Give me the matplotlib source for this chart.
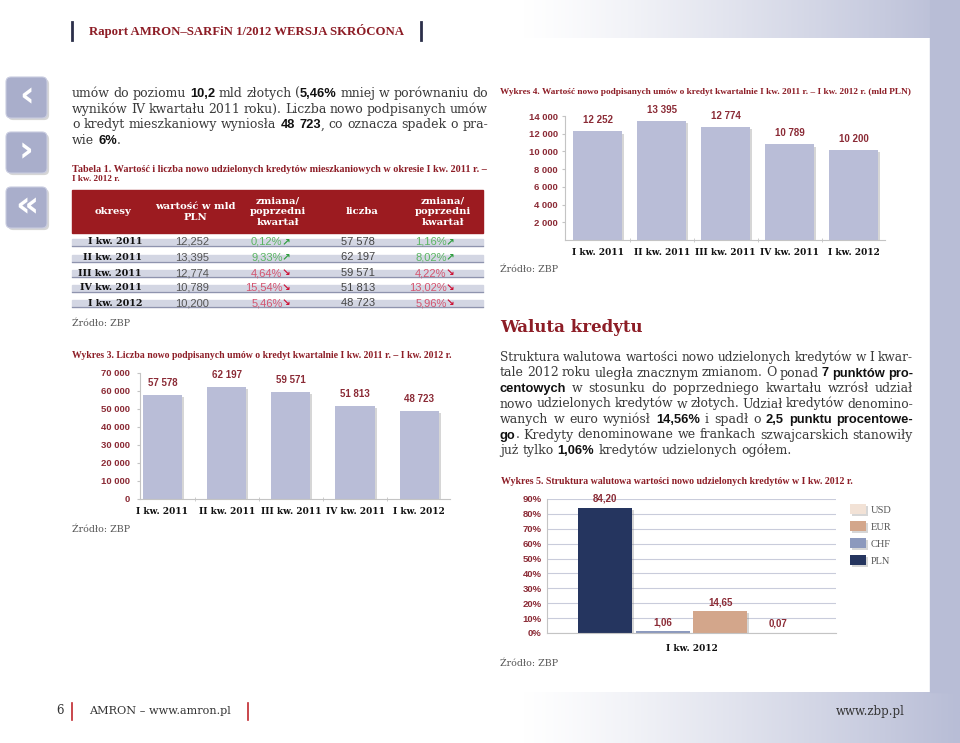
import numpy as np
import matplotlib
matplotlib.use("Agg")
import matplotlib.pyplot as plt
import matplotlib.patheffects as pe
from matplotlib.patches import FancyBboxPatch, Rectangle
from matplotlib.colors import LinearSegmentedColormap
from matplotlib import font_manager

W, H = 960, 743

# --- data -------------------------------------------------------------
periods   = ["I kw. 2011", "II kw. 2011", "III kw. 2011", "IV kw. 2011", "I kw. 2012"]
value_bn  = [12.252, 13.395, 12.774, 10.789, 10.200]      # mld PLN
value_chg = [0.12, 9.33, -4.64, -15.54, -5.46]            # % q/q
count     = [57578, 62197, 59571, 51813, 48723]
count_chg = [1.16, 8.02, -4.22, -13.02, -5.96]

currencies = ["PLN", "CHF", "EUR", "USD"]
shares     = [84.20, 1.06, 14.65, 0.07]

left_par = [
    "umów do poziomu **10,2** mld złotych (**5,46%** mniej w porównaniu do",
    "wyników IV kwartału 2011 roku). Liczba nowo podpisanych umów",
    "o kredyt mieszkaniowy wyniosła **48 723**, co oznacza spadek o pra-",
    "wie **6%**.",
]
right_par = [
    "Struktura walutowa wartości nowo udzielonych kredytów w I kwar-",
    "tale 2012 roku uległa znacznym zmianom. O ponad **7 punktów pro-**",
    "**centowych** w stosunku do poprzedniego kwartału wzrósł udział",
    "nowo udzielonych kredytów w złotych. Udział kredytów denomino-",
    "wanych w euro wyniósł **14,56%** i spadł o **2,5 punktu procentowe-**",
    "**go**. Kredyty denominowane we frankach szwajcarskich stanowiły",
    "już tylko **1,06%** kredytów udzielonych ogółem.",
]

# --- style ------------------------------------------------------------
_names = {f.name for f in font_manager.fontManager.ttflist}
NARROW = "Liberation Sans Narrow" if "Liberation Sans Narrow" in _names else "Liberation Sans"
SERIF = "DejaVu Serif"
CAPT = "Liberation Serif"

RED      = "#8d1d26"
RED_TXT  = "#8b2b36"
HEAD_RED = "#9c1b20"
LAV      = "#b9bdd7"
STRIP    = "#b8bdd6"
AXIS_C   = "#c4c4c4"
GREEN    = "#5bb562"
GREEN_AR = "#2f9e3f"
PINK     = "#d4546f"
RED_AR   = "#cc1236"
CUR_COL  = ["#25355f", "#8c99bd", "#d3a68b", "#f2e2d6"]

BODY   = dict(family=SERIF, color="#3a3a3a")
BODY_B = dict(family="Liberation Sans", weight="bold", color="#111111")
SHADOW = [pe.SimplePatchShadow(offset=(1.5, -1.5), shadow_rgbFace="#8a8a8a", alpha=0.35), pe.Normal()]


def box(x0, y0, x1, y1):
    return [x0 / W, 1 - y1 / H, (x1 - x0) / W, (y1 - y0) / H]


def fmt_thousands(v):
    return f"{int(round(v)):,}".replace(",", " ")


def fmt_pct(v):
    return f"{abs(v):.2f}%".replace(".", ",")


fig = plt.figure(figsize=(W / 100, H / 100), dpi=100)
fig.patch.set_facecolor("white")
bg = fig.add_axes([0, 0, 1, 1])
bg.axis("off")
R = fig.canvas.get_renderer()

# page decoration: gradients and right strip
cmap = LinearSegmentedColormap.from_list("page", ["white", STRIP])
grad = np.linspace(0, 1, 256)[None, :] ** 1.2
bg.imshow(grad, extent=(520, 960, 38, 0), cmap=cmap, aspect="auto", zorder=0)
bg.imshow(grad, extent=(520, 960, 743, 692), cmap=cmap, aspect="auto", zorder=0)
bg.add_patch(Rectangle((930, 0), 30, 692, color=STRIP, zorder=0))
bg.set_xlim(0, W)
bg.set_ylim(H, 0)


def fit_text(x, y, s, width, **kw):
    t = bg.text(x, y, s, fontsize=10, **kw)
    w = t.get_window_extent(R).width
    t.set_fontsize(10 * width / w)
    return t


def rich_line(x, y, line, width, size, justify=True, min_gap=3.2):
    runs = [(p, i % 2 == 1) for i, p in enumerate(line.split("**")) if p]
    words = [[]]
    for text, bold in runs:
        for j, piece in enumerate(text.split(" ")):
            if j > 0:
                words.append([])
            if piece:
                words[-1].append((piece, bold))
    words = [w for w in words if w]
    placed = []
    for w in words:
        parts = []
        for piece, bold in w:
            kw = dict(BODY_B, fontsize=size * 1.03) if bold else dict(BODY, fontsize=size)
            parts.append(bg.text(x, y, piece, va="baseline", ha="left", **kw))
        placed.append(parts)

    def widths():
        return [[t.get_window_extent(R).width for t in parts] for parts in placed]

    ws = widths()
    total = sum(sum(p) for p in ws)
    n = len(placed)
    if justify and n > 1 and (width - total) / (n - 1) < min_gap:
        k = (width - min_gap * (n - 1)) / total
        for parts in placed:
            for t in parts:
                t.set_fontsize(t.get_fontsize() * k)
        ws = widths()
        total = sum(sum(p) for p in ws)
    gap = size * 100 / 72 * 0.32
    if justify and n > 1:
        gap = (width - total) / (n - 1)
    cx = x
    for parts, pw in zip(placed, ws):
        for t, w in zip(parts, pw):
            t.set_x(cx)
            cx += w
        cx += gap


# header + footer
bg.plot([72, 72], [22, 40], color="#2b2f4a", lw=2)
bg.plot([421, 421], [22, 40], color="#2b2f4a", lw=2)
fit_text(89, 31, "Raport AMRON–SARFiN 1/2012 WERSJA SKRÓCONA", 314,
         family=CAPT, weight="bold", color=RED, va="center")
bg.text(60, 711, "6", fontsize=8.5, family=SERIF, color="#333", va="center", ha="center")
bg.plot([72, 72], [703, 720], color="#c0272d", lw=1.2)
fit_text(89, 711, "AMRON – www.amron.pl", 142, family=SERIF, color="#333", va="center")
bg.plot([248, 248], [703, 720], color="#c0272d", lw=1.2)
bg.text(905, 711, "www.zbp.pl", fontsize=8.5, family=SERIF, color="#333", va="center", ha="right")

# side icons
for y0, glyph in zip([77, 132, 187], ["‹", "›", "«"]):
    p = FancyBboxPatch((6, y0), 41, 41, boxstyle="round,pad=0,rounding_size=5",
                       fc="#a9aecb", ec="#c9cce0", lw=0.8, zorder=2)
    p.set_path_effects(SHADOW)
    bg.add_patch(p)
    bg.text(26.5, y0 + 19, glyph, color="white", fontsize=26, weight="bold",
            family="DejaVu Sans", ha="center", va="center", zorder=3)

# paragraphs
for i, line in enumerate(left_par):
    rich_line(72, 97 + i * 15.7, line, 416, 9.0, justify=i < len(left_par) - 1)
bg.text(500, 327, "Waluta kredytu", fontsize=12, family=SERIF, weight="bold",
        color=RED, va="center")
for i, line in enumerate(right_par):
    rich_line(500, 361 + i * 15.5, line, 413, 9.0, justify=i < len(right_par) - 1)

# --- table 1 -----------------------------------------------------------
fit_text(72, 169, "Tabela 1. Wartość i liczba nowo udzielonych kredytów mieszkaniowych "
         "w okresie I kw. 2011 r. –", 413, family=CAPT, weight="bold", color=RED, va="center")
bg.text(72, 179, "I kw. 2012 r.", fontsize=6.6, family=CAPT, weight="bold", color=RED, va="center")

bg.add_patch(Rectangle((72, 190), 411, 43, color=HEAD_RED, zorder=1))
head_kw = dict(family=SERIF, weight="bold", color="white", fontsize=7.2,
               ha="center", va="center", linespacing=1.25, zorder=2)
bg.text(113, 212, "okresy", **head_kw)
bg.text(195, 212, "wartość w mld\nPLN", **head_kw)
bg.text(278, 212, "zmiana/\npoprzedni\nkwartał", **head_kw)
bg.text(362, 212, "liczba", **head_kw)
bg.text(443, 212, "zmiana/\npoprzedni\nkwartał", **head_kw)

row_y = [242, 257.5, 273, 288, 303]
for yc, per, v, vc, c, cc in zip(row_y, periods, value_bn, value_chg, count, count_chg):
    bg.add_patch(Rectangle((72, yc - 3), 411, 7, color="#d3d6e3", zorder=1))
    bg.plot([72, 483], [yc + 4, yc + 4], color="#8f94ae", lw=0.9, zorder=1)
    bg.text(142, yc, per, family=SERIF, weight="bold", fontsize=6.8, color="#111",
            ha="right", va="center", zorder=2)
    bg.text(192, yc, f"{v:.3f}".replace(".", ","), family=NARROW, fontsize=8,
            color="#555", ha="center", va="center", zorder=2)
    bg.text(358, yc, fmt_thousands(c), family=NARROW, fontsize=8,
            color="#444", ha="center", va="center", zorder=2)
    for xr, pv in [(290, vc), (454, cc)]:
        up = pv >= 0
        bg.text(xr, yc, "↗" if up else "↘", family="DejaVu Sans", weight="bold",
                fontsize=7.5, color=GREEN_AR if up else RED_AR, ha="right", va="center", zorder=2)
        bg.text(xr - 7.5, yc, fmt_pct(pv), family=NARROW, fontsize=8,
                color=GREEN if up else PINK, ha="right", va="center", zorder=2)

src_kw = dict(family=SERIF, fontsize=6.8, color="#555", va="center")
bg.text(72, 324, "Źródło: ZBP", **src_kw)


# --- bar chart helper ----------------------------------------------------
def style_axes(ax, ylabels_size=6.8):
    ax.patch.set_alpha(0)
    for s in ["top", "right"]:
        ax.spines[s].set_visible(False)
    for s in ["left", "bottom"]:
        ax.spines[s].set_color(AXIS_C)
        ax.spines[s].set_linewidth(0.8)
    ax.tick_params(axis="y", colors=AXIS_C, labelcolor=RED_TXT, labelsize=ylabels_size,
                   length=2.5, width=0.8)
    for lab in ax.get_yticklabels():
        lab.set_family("Liberation Sans")
        lab.set_weight("bold")


def cat_labels(ax, x, labels, pad=6):
    ax.set_xticks(x, labels)
    ax.tick_params(axis="x", which="major", length=0, pad=pad)
    for lab in ax.get_xticklabels():
        lab.set_family(SERIF)
        lab.set_weight("bold")
        lab.set_fontsize(6.5)
        lab.set_color("#111")


x = np.arange(len(periods))

# --- Wykres 4 -----------------------------------------------------------
fit_text(500, 92, "Wykres 4. Wartość nowo podpisanych umów o kredyt kwartalnie "
         "I kw. 2011 r. – I kw. 2012 r. (mld PLN)", 412,
         family=CAPT, weight="bold", color=RED, va="center")
value_mln = np.round(np.array(value_bn) * 1000)
ax4 = fig.add_axes(box(565, 116, 885, 240))
b4 = ax4.bar(x, value_mln, width=0.76, color=LAV, zorder=2)
for b in b4:
    b.set_path_effects(SHADOW)
for xi, v in zip(x, value_mln):
    ax4.annotate(fmt_thousands(v), (xi, v), xytext=(0, 8), textcoords="offset points",
                 ha="center", va="center", fontsize=7, family="Liberation Sans",
                 weight="bold", color=RED_TXT)
ax4.set_xlim(-0.51, 4.49)
ax4.set_ylim(0, 14000)
ax4.set_yticks(range(2000, 14001, 2000), [fmt_thousands(v) for v in range(2000, 14001, 2000)])
style_axes(ax4)
ax4.tick_params(axis="y", pad=2.5)
cat_labels(ax4, x, periods)
ax4.set_xticks(x[:-1] + 0.5, minor=True)
ax4.tick_params(axis="x", which="minor", length=2.5, color=AXIS_C, direction="inout")
bg.text(500, 269, "Źródło: ZBP", **src_kw)

# --- Wykres 3 -----------------------------------------------------------
fit_text(72, 355, "Wykres 3. Liczba nowo podpisanych umów o kredyt kwartalnie "
         "I kw. 2011 r. – I kw. 2012 r.", 378,
         family=CAPT, weight="bold", color=RED, va="center")
ax3 = fig.add_axes(box(140, 373, 450, 499))
b3 = ax3.bar(x, count, width=0.61, color=LAV, zorder=2)
for b in b3:
    b.set_path_effects(SHADOW)
for xi, v in zip(x, count):
    ax3.annotate(fmt_thousands(v), (xi, v), xytext=(0, 8.6), textcoords="offset points",
                 ha="center", va="center", fontsize=7, family="Liberation Sans",
                 weight="bold", color=RED_TXT)
ax3.set_xlim(-0.35, 4.48)
ax3.set_ylim(0, 70000)
ax3.set_yticks(range(0, 70001, 10000), [fmt_thousands(v) for v in range(0, 70001, 10000)])
style_axes(ax3)
ax3.tick_params(axis="y", pad=4.5)
cat_labels(ax3, x, periods)
ax3.set_xticks(x[:-1] + 0.5, minor=True)
ax3.tick_params(axis="x", which="minor", length=2.5, color=AXIS_C, direction="inout")
bg.text(72, 530, "Źródło: ZBP", **src_kw)

# --- Wykres 5 -----------------------------------------------------------
fit_text(501, 481, "Wykres 5. Struktura walutowa wartości nowo udzielonych kredytów "
         "w I kw. 2012 r.", 355, family=CAPT, weight="bold", color=RED, va="center")
ax5 = fig.add_axes(box(547, 499, 836, 633))
pos = np.arange(len(currencies))
b5 = ax5.bar(pos, shares, width=0.94, color=CUR_COL, zorder=2)
for b in b5:
    b.set_path_effects(SHADOW)
for xi, v in zip(pos, shares):
    ax5.annotate(f"{v:.2f}".replace(".", ","), (xi, v), xytext=(0, 6.5), textcoords="offset points",
                 ha="center", va="center", fontsize=7, family="Liberation Sans",
                 weight="bold", color=RED_TXT)
ax5.set_xlim(-1.015, 4.015)
ax5.set_ylim(0, 90)
ax5.set_yticks(range(0, 91, 10), [f"{v}%" for v in range(0, 91, 10)])
ax5.yaxis.grid(True, color="#c9ccdb", lw=0.8, zorder=0)
ax5.set_axisbelow(True)
style_axes(ax5)
ax5.tick_params(axis="y", length=0, pad=4)
cat_labels(ax5, [1.5], ["I kw. 2012"], pad=8)
ax5.legend(list(b5)[::-1], currencies[::-1], loc="upper left",
           bbox_to_anchor=(850 / W, 1 - 504 / H), bbox_transform=fig.transFigure,
           frameon=False, borderpad=0, borderaxespad=0, handlelength=1.55,
           handleheight=1.15, labelspacing=0.6, handletextpad=0.45,
           prop={"family": "Liberation Serif", "size": 7.5}, labelcolor="#555")
bg.text(500, 663, "Źródło: ZBP", **src_kw)

fig.savefig("out.png", dpi=100, facecolor="white")
